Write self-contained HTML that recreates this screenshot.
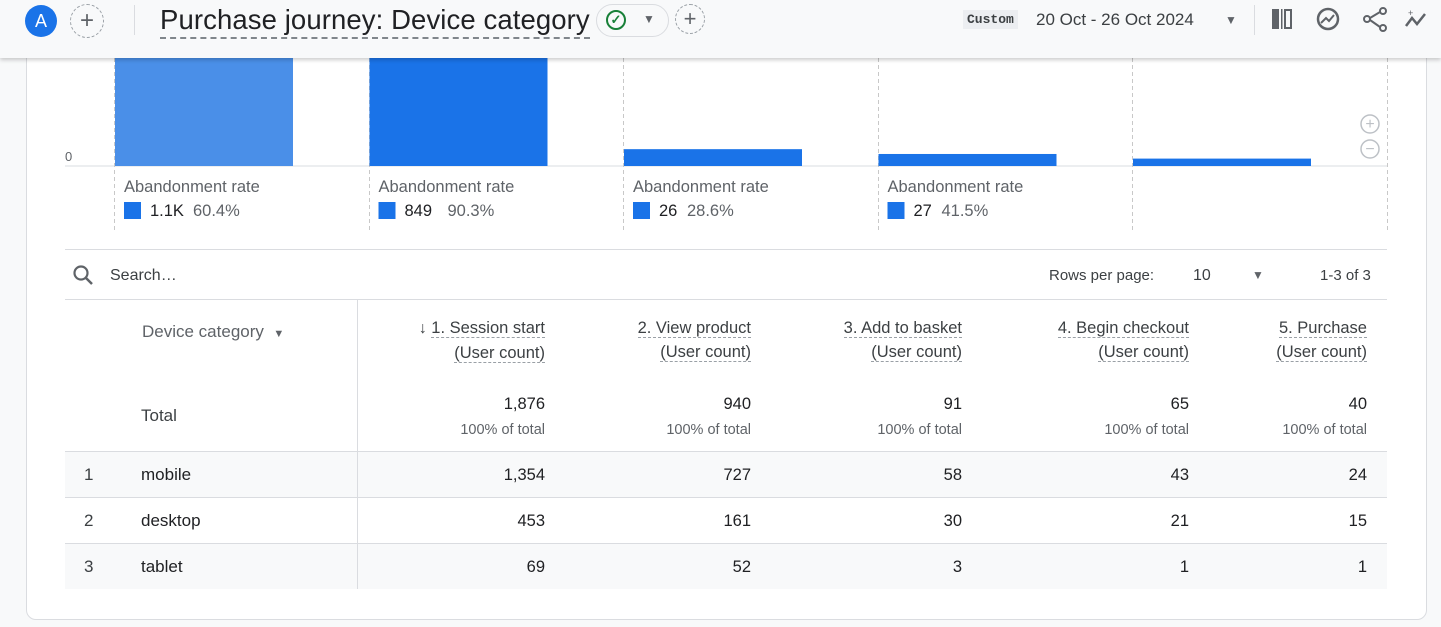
<!DOCTYPE html>
<html><head><meta charset="utf-8">
<style>
*{box-sizing:border-box;margin:0;padding:0}
body{width:1441px;height:627px;overflow:hidden;background:#f8f9fa;font-family:"Liberation Sans",Roboto,sans-serif;color:#202124;position:relative}
.abs{position:absolute}
#card{left:26px;top:40px;width:1401px;height:580px;background:#fff;border:1px solid #dadce0;border-radius:0 0 10px 10px}
#hdr{left:0;top:0;width:1441px;height:58px;background:#f8f9fa;box-shadow:0 2px 4px rgba(0,0,0,.2);z-index:5}
.g{color:#5f6368}
.t{font-size:16px}
.r{text-align:right}
.hd{border-bottom:1px dashed #9aa0a6;display:inline-block;line-height:18px}
</style></head><body>
<div id="card" class="abs"></div>
<svg id="chart" class="abs" style="left:0;top:0" width="1441" height="250"></svg>
<div id="hdr" class="abs">
 <div class="abs" style="left:25px;top:5px;width:32px;height:32px;border-radius:50%;background:#1a73e8;color:#fff;font-size:18px;text-align:center;line-height:32px">A</div>
 <div class="abs" style="left:70px;top:4px;width:34px;height:34px;border-radius:50%;border:1px dashed #9aa0a6;text-align:center;line-height:31px;font-size:24px;color:#5f6368">+</div>
 <div class="abs" style="left:134px;top:5px;width:1px;height:30px;background:#dadce0"></div>
 <div class="abs" style="left:160px;top:3px;font-size:27.5px;line-height:34px;border-bottom:2px dashed #80868b;letter-spacing:0.1px">Purchase journey: Device category</div>
 <div class="abs" style="left:596px;top:4px;width:73px;height:33px;border:1px solid #dadce0;border-radius:17px"><span class="abs" style="left:9px;top:5px;width:20px;height:20px;border:2px solid #188038;border-radius:50%;color:#188038;font-size:13px;text-align:center;line-height:16px;font-weight:bold">✓</span><span class="abs g" style="left:46px;top:7px;font-size:12px">▼</span></div>
 <div class="abs" style="left:675px;top:4px;width:30px;height:30px;border-radius:50%;border:1px dashed #9aa0a6;text-align:center;line-height:28px;font-size:22px;color:#5f6368">+</div>
 <div class="abs" style="left:963px;top:10px;padding:2px 4px;background:#eceef1;font-size:13px;font-family:'Liberation Mono',monospace;font-weight:bold;color:#3c4043">Custom</div>
 <div class="abs" style="left:1036px;top:10px;font-size:17px;color:#3c4043">20 Oct - 26 Oct 2024</div>
 <div class="abs g" style="left:1225px;top:13px;font-size:12px">▼</div>
 <div class="abs" style="left:1254px;top:5px;width:1px;height:30px;background:#dadce0"></div>
 <svg class="abs" style="left:1270px;top:6px" width="160" height="28">
  <rect x="2" y="3" width="7" height="20" fill="#5f6368"/><rect x="11" y="3" width="1.5" height="20" fill="#5f6368"/><rect x="15" y="4" width="6" height="18" fill="none" stroke="#5f6368" stroke-width="2"/>
  <circle cx="58" cy="13" r="10" fill="none" stroke="#5f6368" stroke-width="2.5"/><path d="M51 17l5-5 3 3 5-6" stroke="#5f6368" stroke-width="2" fill="none"/>
  <circle cx="113" cy="5" r="3" fill="none" stroke="#5f6368" stroke-width="2"/><circle cx="97" cy="13" r="3" fill="none" stroke="#5f6368" stroke-width="2"/><circle cx="113" cy="22" r="3" fill="none" stroke="#5f6368" stroke-width="2"/><path d="M100 12l10-6M100 14l10 7" stroke="#5f6368" stroke-width="2"/>
  <path d="M136 20l6-8 5 6 8-10" stroke="#5f6368" stroke-width="2.5" fill="none"/><text x="138" y="10" font-size="9" fill="#5f6368">+</text>
 </svg>
</div>

<div class="abs" style="left:65px;top:249px;width:1322px;height:1px;background:#dadce0"></div>
<svg class="abs" style="left:72px;top:264px" width="24" height="24"><circle cx="9" cy="9" r="6.5" fill="none" stroke="#5f6368" stroke-width="2.2"/><path d="M14 14l6 6" stroke="#5f6368" stroke-width="2.5"/></svg>
<div class="abs t g" style="left:110px;top:267px;color:#3c4043">Search…</div>
<div class="abs" style="left:1049px;top:267px;font-size:15px;color:#3c4043">Rows per page:</div>
<div class="abs t" style="left:1193px;top:267px;color:#3c4043">10</div>
<div class="abs g" style="left:1252px;top:268px;font-size:12px">▼</div>
<div class="abs" style="left:1320px;top:267px;font-size:15px;color:#3c4043">1-3 of 3</div>
<div class="abs" style="left:65px;top:299px;width:1322px;height:1px;background:#dadce0"></div>

<div class="abs" style="left:65px;top:451px;width:1322px;height:46px;background:#f8f9fa"></div>
<div class="abs" style="left:65px;top:543px;width:1322px;height:46px;background:#f8f9fa"></div>
<div class="abs" style="left:65px;top:451px;width:1322px;height:1px;background:#dadce0"></div>
<div class="abs" style="left:65px;top:497px;width:1322px;height:1px;background:#dadce0"></div>
<div class="abs" style="left:65px;top:543px;width:1322px;height:1px;background:#dadce0"></div>
<div class="abs" style="left:357px;top:300px;width:1px;height:289px;background:#dadce0"></div>

<div class="abs t g" style="left:142px;top:322px;color:#5f6368;font-size:17px">Device category &nbsp;<span style="font-size:11px">▼</span></div>
<div class="abs t" style="left:141px;top:406px;color:#3c4043;font-size:17px">Total</div>

<div id="tbl"></div>

<script>
const steps=["1. Session start","2. View product","3. Add to basket","4. Begin checkout","5. Purchase"];
const totals=[1876,940,91,65,40];
const dropoffs=["1.1K","849","26","27"];
const rates=["60.4%","90.3%","28.6%","41.5%"];
const devices=["mobile","desktop","tablet"];
const mobile=[1354,727,58,43,24];
const desktop=[453,161,30,21,15];
const tablet=[69,52,3,1,1];

const svg=document.getElementById('chart');const NS='http://www.w3.org/2000/svg';
const base=166, scale=0.185, colX0=115, colW=254.5, barW=178;
function yv(v){return base-v*scale}
function el(t,a){const e=document.createElementNS(NS,t);for(const k in a)e.setAttribute(k,a[k]);svg.appendChild(e);return e}
el('line',{x1:65,y1:base,x2:1387,y2:base,stroke:'#dadce0'});
const z=el('text',{x:65,y:161,'font-size':13,fill:'#5f6368'});z.textContent='0';
for(let i=0;i<=5;i++){const x=Math.round(colX0+i*colW)-0.5;el('line',{x1:x,y1:58,x2:x,y2:230,stroke:'#c8c8c8','stroke-dasharray':'4 3'});}
totals.forEach((v,i)=>{
 const x=colX0+i*colW, y=Math.max(yv(v),40);
 const r=el('rect',{x:x,y:y,width:barW,height:base-y,fill:i==0?'#4a8fe8':'#1a73e8'});
 
 
});
dropoffs.forEach((d,i)=>{
 const x=colX0+i*colW+9;
 const t=el('text',{x:x,y:192,'font-size':16.5,fill:'#5f6368'});t.textContent='Abandonment rate';
 
 
 el('rect',{x:x,y:202,width:17,height:17,fill:'#1a73e8'});
 const a=el('text',{x:x+26,y:216,'font-size':16.5,fill:'#202124'});a.textContent=d;
 
 
 const b=el('text',{x:x+(d.length>2?69:54),y:216,'font-size':16.5,fill:'#5f6368'});b.textContent=rates[i];
 
 
});
[[1370,124,'+'],[1370,149,'−']].forEach(([cx,cy,s])=>{el('circle',{cx:cx,cy:cy,r:9,fill:'#fff',stroke:'#bdc1c6','stroke-width':1.5});const t=el('text',{x:cx,y:cy+5,'font-size':16,fill:'#bdc1c6','text-anchor':'middle'});t.textContent=s;});

const tbl=document.getElementById('tbl');
const rights=[545,751,962,1189,1367];
function div(html,style){const d=document.createElement('div');d.className='abs';d.style.cssText=style;d.innerHTML=html;tbl.appendChild(d);return d}
const fmt=n=>n.toLocaleString('en-US');
steps.forEach((s,i)=>{
 const l=rights[i]-220;
 const h=div((i==0?'<span style="font-size:16px">↓ </span>':'')+'<span class="hd">'+s+'</span><br><span class="hd" style="margin-top:2px">(User count)</span>','left:'+l+'px;width:220px;top:316px;text-align:right;font-size:16.5px;color:#3c4043;line-height:24px');
 
 
 const t=div(fmt(totals[i])+'<br><span style="font-size:14.5px;color:#5f6368;line-height:30px">100% of total</span>','left:'+l+'px;width:220px;top:393px;text-align:right;font-size:16.5px;color:#202124;line-height:22px');
 
 
});
[mobile,desktop,tablet].forEach((row,r)=>{
 const top=465+r*46;
 const n=div(String(r+1),'left:84px;top:'+top+'px;font-size:17px;color:#3c4043');
 
 
 const d=div(devices[r],'left:141px;top:'+top+'px;font-size:17px;color:#202124');
 
 
 row.forEach((v,i)=>{
  const c=div(fmt(v),'left:'+(rights[i]-150)+'px;width:150px;top:'+(top+1)+'px;text-align:right;font-size:16.5px;color:#202124');
  
  
 });
});
</script>
</body></html>
